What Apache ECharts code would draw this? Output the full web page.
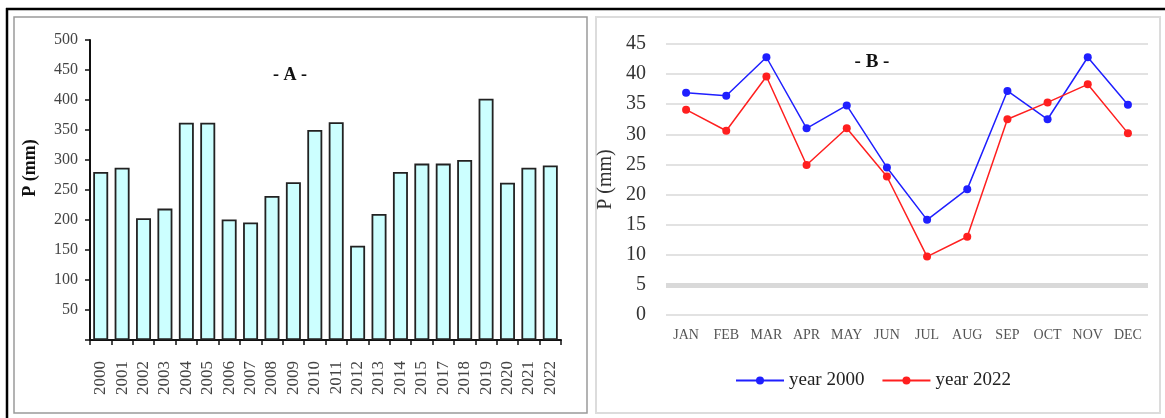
<!DOCTYPE html>
<html>
<head>
<meta charset="utf-8">
<script src="https://cdn.jsdelivr.net/npm/echarts@6/dist/echarts.min.js"></script>
<style>
  html, body { margin: 0; padding: 0; background: #ffffff; }
  #chart { width: 1165px; height: 418px; }
</style>
</head>
<body>
<div id="chart"></div>
<script>
// Panel A: annual precipitation (mm) per year
const years = ['2000','2001','2002','2003','2004','2005','2006','2007','2008','2009','2010',
               '2011','2012','2013','2014','2015','2017','2018','2019','2020','2021','2022'];
const annualP = [280, 287, 203, 219, 362, 362, 201, 196, 240, 263, 350,
                 363, 157, 210, 280, 294, 294, 300, 402, 262, 287, 291];

// Panel B: monthly precipitation (mm) for two years
const months = ['JAN','FEB','MAR','APR','MAY','JUN','JUL','AUG','SEP','OCT','NOV','DEC'];
const p2000 = [36.9, 36.4, 42.8, 31.0, 34.8, 24.5, 15.8, 20.9, 37.2, 32.5, 42.8, 34.9];
const p2022 = [34.1, 30.6, 39.6, 24.9, 31.0, 23.0, 9.7, 13.0, 32.5, 35.3, 38.3, 30.2];

const SERIF = '"Liberation Serif", "DejaVu Serif", serif';

const chart = echarts.init(document.getElementById('chart'), null, { renderer: 'canvas' });

chart.setOption({
  animation: false,
  backgroundColor: '#ffffff',
  grid: [
    { left: 90, right: 604, top: 40, bottom: 78 },
    { left: 666, right: 17, top: 44, bottom: 103 }
  ],
  legend: {
    data: ['year 2000', 'year 2022'],
    left: 730,
    top: 366,
    itemWidth: 48,
    itemHeight: 10,
    itemGap: 17,
    textStyle: { fontFamily: SERIF, fontSize: 19, color: '#222' }
  },
  xAxis: [
    {
      type: 'category',
      gridIndex: 0,
      data: years,
      boundaryGap: true,
      axisLine: { lineStyle: { color: '#111', width: 2 } },
      axisTick: { show: true, length: 5, lineStyle: { color: '#111', width: 1.5 } },
      axisLabel: {
        rotate: 90, margin: 21, interval: 0,
        fontFamily: SERIF, fontSize: 17, color: '#444'
      }
    },
    {
      type: 'category',
      gridIndex: 1,
      data: months,
      boundaryGap: true,
      axisLine: { show: false },
      axisTick: { show: false },
      axisLabel: { margin: 13, interval: 0, fontFamily: SERIF, fontSize: 14, color: '#555' }
    }
  ],
  yAxis: [
    {
      type: 'value',
      gridIndex: 0,
      min: 0, max: 500, interval: 50,
      splitLine: { show: false },
      axisLine: { show: true, lineStyle: { color: '#111', width: 2 } },
      axisTick: { show: true, length: 5, lineStyle: { color: '#111', width: 1.5 } },
      axisLabel: {
        margin: 12, fontFamily: SERIF, fontSize: 16, color: '#444',
        formatter: v => (v === 0 ? '' : String(v))
      }
    },
    {
      type: 'value',
      gridIndex: 1,
      min: 0, max: 45, interval: 5,
      axisLine: { show: false },
      axisTick: { show: false },
      splitLine: { lineStyle: { color: '#d9d9d9', width: 1.5 } },
      axisLabel: { margin: 20, fontFamily: SERIF, fontSize: 20, color: '#333' },
      name: 'P (mm)',
      nameLocation: 'middle',
      nameGap: 50,
      nameTextStyle: { fontFamily: SERIF, fontSize: 20, color: '#333' }
    }
  ],
  series: [
    {
      name: 'annual',
      type: 'bar',
      xAxisIndex: 0,
      yAxisIndex: 0,
      data: annualP,
      barWidth: '70%',
      itemStyle: { color: '#ccffff', borderColor: '#222', borderWidth: 1.8 }
    },
    {
      name: 'year 2000',
      type: 'line',
      xAxisIndex: 1,
      yAxisIndex: 1,
      data: p2000,
      symbol: 'circle',
      symbolSize: 8,
      color: '#1f1fff',
      lineStyle: { width: 1.5, color: '#1f1fff' },
      itemStyle: { color: '#1f1fff' },
      markLine: {
        silent: true,
        symbol: 'none',
        label: { show: false },
        lineStyle: { type: 'solid', color: '#d9d9d9', width: 5 },
        data: [{ yAxis: 5 }]
      }
    },
    {
      name: 'year 2022',
      type: 'line',
      xAxisIndex: 1,
      yAxisIndex: 1,
      data: p2022,
      symbol: 'circle',
      symbolSize: 8,
      color: '#ff1f1f',
      lineStyle: { width: 1.5, color: '#ff1f1f' },
      itemStyle: { color: '#ff1f1f' }
    }
  ],
  graphic: [
    // page frame
    { type: 'line', shape: { x1: 6, y1: 9, x2: 1165, y2: 9 }, style: { stroke: '#000', lineWidth: 2.5 }, silent: true },
    { type: 'line', shape: { x1: 7, y1: 8, x2: 7, y2: 418 }, style: { stroke: '#000', lineWidth: 2.5 }, silent: true },
    // panel frames
    { type: 'rect', shape: { x: 14, y: 17, width: 573, height: 396 }, style: { fill: 'none', stroke: '#9a9a9a', lineWidth: 1.5 }, silent: true },
    { type: 'rect', shape: { x: 596, y: 17, width: 564, height: 396 }, style: { fill: 'none', stroke: '#dcdcdc', lineWidth: 2 }, silent: true },
    // panel titles
    { type: 'text', x: 290, y: 75, silent: true,
      style: { text: '- A -', font: 'bold 18px ' + SERIF, fill: '#111', textAlign: 'center', textVerticalAlign: 'middle' } },
    { type: 'text', x: 872, y: 62, silent: true,
      style: { text: '- B -', font: 'bold 19px ' + SERIF, fill: '#111', textAlign: 'center', textVerticalAlign: 'middle' } },
    // left axis title
    { type: 'text', x: 30, y: 168, rotation: Math.PI / 2, silent: true,
      style: { text: 'P (mm)', font: 'bold 18px ' + SERIF, fill: '#111', textAlign: 'center', textVerticalAlign: 'middle' } }
  ]
});
</script>
</body>
</html>
